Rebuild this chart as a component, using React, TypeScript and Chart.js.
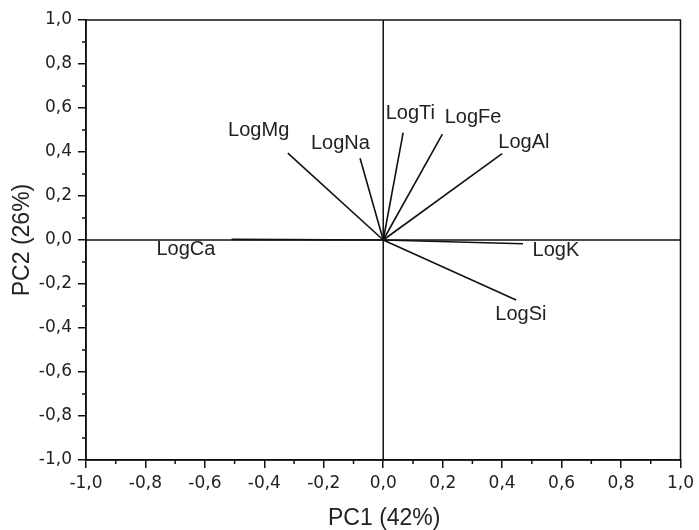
import { useEffect, useRef } from 'react';
import { Chart, registerables } from 'chart.js';

Chart.register(...registerables);

// Loadings (PC1, PC2) for each variable
const variables = ['LogCa', 'LogMg', 'LogNa', 'LogTi', 'LogFe', 'LogAl', 'LogK', 'LogSi'];
const pc1 = [-0.51, -0.321, -0.078, 0.067, 0.199, 0.4, 0.47, 0.447];
const pc2 = [0.003, 0.395, 0.372, 0.488, 0.481, 0.393, -0.017, -0.273];
// Label anchor points (data units)
const labelPc1 = [-0.664, -0.419, -0.144, 0.091, 0.302, 0.473, 0.581, 0.463];
const labelPc2 = [-0.041, 0.496, 0.437, 0.573, 0.555, 0.441, -0.046, -0.337];

const xTitle = 'PC1 (42%)';
const yTitle = 'PC2 (26%)';
const axisMin = -1;
const axisMax = 1;
const majorStep = 0.2;
const minorStep = 0.1;

const fmt = (v: number) => Number(v).toFixed(1).replace('.', ',').replace('-0,0', '0,0');

export default function App() {
  const ref = useRef<HTMLCanvasElement>(null);

  useEffect(() => {
    if (!ref.current) return;
    const datasets = variables.map((name, i) => ({
      label: name,
      data: [
        { x: 0, y: 0 },
        { x: pc1[i], y: pc2[i] },
      ],
      showLine: true,
      borderColor: '#111',
      borderWidth: 1.6,
      pointRadius: 0,
      fill: false,
    }));

    const decor = {
      id: 'decor',
      beforeDatasetsDraw(chart: any) {
        const { ctx, chartArea: a, scales } = chart;
        const x0 = scales.x.getPixelForValue(0);
        const y0 = scales.y.getPixelForValue(0);
        ctx.save();
        ctx.strokeStyle = '#111';
        ctx.lineWidth = 1.5;
        ctx.beginPath();
        ctx.moveTo(a.left, y0);
        ctx.lineTo(a.right, y0);
        ctx.moveTo(x0, a.top);
        ctx.lineTo(x0, a.bottom);
        ctx.stroke();
        ctx.restore();
      },
      afterDraw(chart: any) {
        const { ctx, chartArea: a, scales } = chart;
        ctx.save();
        ctx.strokeStyle = '#111';
        ctx.lineWidth = 1.5;
        ctx.strokeRect(a.left, a.top, a.right - a.left, a.bottom - a.top);
        // minor ticks
        ctx.beginPath();
        for (let k = 0; k <= Math.round((axisMax - axisMin) / minorStep); k++) {
          if (k % 2 === 0) continue;
          const v = axisMin + k * minorStep;
          const px = scales.x.getPixelForValue(v);
          ctx.moveTo(px, a.bottom);
          ctx.lineTo(px, a.bottom + 4);
          const py = scales.y.getPixelForValue(v);
          ctx.moveTo(a.left, py);
          ctx.lineTo(a.left - 4, py);
        }
        ctx.stroke();
        // vector labels
        ctx.fillStyle = '#222';
        ctx.font = '20px "Liberation Sans", Arial, sans-serif';
        ctx.textAlign = 'center';
        ctx.textBaseline = 'middle';
        variables.forEach((name, i) => {
          ctx.fillText(name, scales.x.getPixelForValue(labelPc1[i]), scales.y.getPixelForValue(labelPc2[i]));
        });
        // axis titles
        ctx.font = '23px "Liberation Sans", Arial, sans-serif';
        ctx.fillText(xTitle, (a.left + a.right) / 2 + 1, 519);
        ctx.translate(23, (a.top + a.bottom) / 2);
        ctx.rotate(-Math.PI / 2);
        ctx.fillText(yTitle, 0, 0);
        ctx.restore();
      },
    };

    const tickFont = { family: '"DejaVu Sans", sans-serif', size: 17 };
    const chart = new Chart(ref.current, {
      type: 'scatter',
      data: { datasets } as any,
      options: {
        animation: false,
        responsive: false,
        devicePixelRatio: 1,
        layout: { padding: { top: 20, right: 17, left: 0, bottom: 0 } },
        plugins: { legend: { display: false }, tooltip: { enabled: false } },
        scales: {
          x: {
            type: 'linear',
            min: axisMin,
            max: axisMax,
            ticks: {
              stepSize: majorStep,
              font: tickFont,
              color: '#222',
              padding: 5,
              maxRotation: 0,
              autoSkip: false,
              callback: (v: any) => fmt(v),
            },
            grid: { drawOnChartArea: false, tickLength: 8, color: '#111', lineWidth: 1.5 },
            border: { display: true, color: '#111', width: 1.5 },
            afterFit(s: any) {
              s.height = 70;
            },
          },
          y: {
            type: 'linear',
            min: axisMin,
            max: axisMax,
            ticks: {
              stepSize: majorStep,
              font: tickFont,
              color: '#222',
              padding: 6,
              autoSkip: false,
              callback: (v: any) => fmt(v),
            },
            grid: { drawOnChartArea: false, tickLength: 8, color: '#111', lineWidth: 1.5 },
            border: { display: true, color: '#111', width: 1.5 },
            afterFit(s: any) {
              s.width = 86;
            },
          },
        },
      } as any,
      plugins: [decor],
    });
    return () => chart.destroy();
  }, []);

  return (
    <div style={{ position: 'fixed', left: 0, top: 0, width: 699, height: 530, background: '#fff' }}>
      <canvas ref={ref} width={699} height={530} style={{ width: 699, height: 530, display: 'block' }} />
    </div>
  );
}
